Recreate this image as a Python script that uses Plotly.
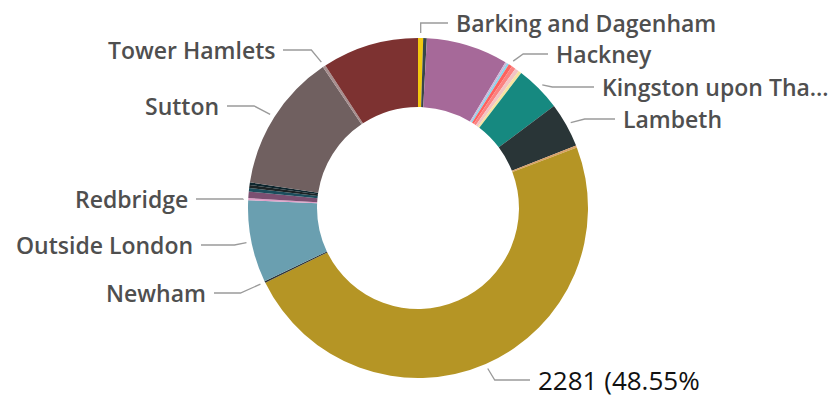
import math
import plotly.graph_objects as go

# ---- data (clockwise from 12 o'clock) ----
categories = [
    "Barking and Dagenham", "Barnet", "Bexley", "Brent", "Ealing", "Hackney",
    "Haringey", "Harrow", "Islington", "Kingston upon Thames", "Lambeth",
    "Lewisham", "Merton", "Newham", "Outside London", "Redbridge",
    "Richmond upon Thames", "Southwark", "St Albans", "Surrey", "Sutton",
    "Tower Hamlets", "Waltham Forest",
]
values = [23, 16, 365, 8, 10, 16, 18, 18, 14, 205, 200, 9, 2281, 8, 367, 9,
          29, 16, 13, 12, 617, 13, 431]
colors = ["#F2C80F", "#374649", "#A66999", "#CDB6D8", "#8AD4EB", "#FD625E",
          "#FB8281", "#F2C4C4", "#F6E3A0", "#168980", "#293537", "#D9A066",
          "#B59525", "#2E3436", "#6A9FB0", "#E0A0C8", "#7B4F71", "#1B4D5C",
          "#1C2325", "#0D262E", "#706060", "#A78F8F", "#7D3231"]

# label texts shown on the chart
label_text = {
    "Barking and Dagenham": "Barking and Dagenham",
    "Hackney": "Hackney",
    "Kingston upon Thames": "Kingston upon Tha…",
    "Lambeth": "Lambeth",
    "Merton": None,  # shows value/percent instead
    "Newham": "Newham",
    "Outside London": "Outside London",
    "Redbridge": "Redbridge",
    "Sutton": "Sutton",
    "Tower Hamlets": "Tower Hamlets",
}

# ---- layout (pixels in the screenshot) ----
W, H = 836, 403
OFF = 8  # page body margin
CX, CY, R = 418, 208, 170
HOLE = 0.594
TIP_R = 175
# label placement: text x, text y, side
label_pos = {
    "Barking and Dagenham": (458, 23, "right"),
    "Hackney": (558, 54, "right"),
    "Kingston upon Thames": (604, 87, "right"),
    "Lambeth": (625, 119, "right"),
    "Merton": (540, 380, "right"),
    "Newham": (204, 293, "left"),
    "Outside London": (191, 245, "left"),
    "Redbridge": (186, 199, "left"),
    "Sutton": (217, 106, "left"),
    "Tower Hamlets": (273, 50, "left"),
}
elbow_dx = {
    "Barking and Dagenham": 0, "Hackney": 10, "Kingston upon Thames": 10,
    "Lambeth": 14, "Merton": 7, "Newham": -20, "Outside London": -12,
    "Redbridge": 0, "Sutton": -16, "Tower Hamlets": -10,
}

def px(x):
    return (x - OFF) / W

def py(y):
    return 1 - (y - OFF) / H

fig = go.Figure(go.Pie(
    labels=categories, values=values, sort=False, direction="clockwise",
    rotation=0, hole=HOLE, textinfo="none", showlegend=False,
    marker=dict(colors=colors, line=dict(width=0)),
    domain=dict(x=[px(CX - R), px(CX + R)], y=[py(CY + R), py(CY - R)]),
))

total = sum(values)
cum = 0
shapes, annotations = [], []
for name, v in zip(categories, values):
    mid = (cum + v / 2) / total * 2 * math.pi
    cum += v
    if name not in label_pos:
        continue
    tx, ty, side = label_pos[name]
    tipx = CX + TIP_R * math.sin(mid)
    tipy = CY - TIP_R * math.cos(mid)
    ex = tipx + elbow_dx[name]
    end = tx - 10 if side == "right" else tx + 10
    path = f"M {px(tipx)},{py(tipy)} L {px(ex)},{py(ty)} L {px(end)},{py(ty)}"
    shapes.append(dict(type="path", path=path, xref="paper", yref="paper",
                       line=dict(color="#9A9A9A", width=1.3)))
    txt = label_text[name]
    if txt is None:
        txt = f"{v} ({v / total * 100:.2f}%"
        font = dict(family="Open Sans", size=26, color="#111111")
    else:
        font = dict(family="Open Sans", size=23, color="#4F4F4F", weight=600)
    annotations.append(dict(
        x=px(tx), y=py(ty), xref="paper", yref="paper", text=txt,
        showarrow=False, xanchor="left" if side == "right" else "right",
        xshift=-3 if side == "right" else 3, borderpad=0,
        yanchor="middle", font=font))

fig.update_layout(
    width=W, height=H, margin=dict(l=0, r=0, t=0, b=0),
    paper_bgcolor="white", plot_bgcolor="white",
    shapes=shapes, annotations=annotations,
)
fig.write_html("out.html")
